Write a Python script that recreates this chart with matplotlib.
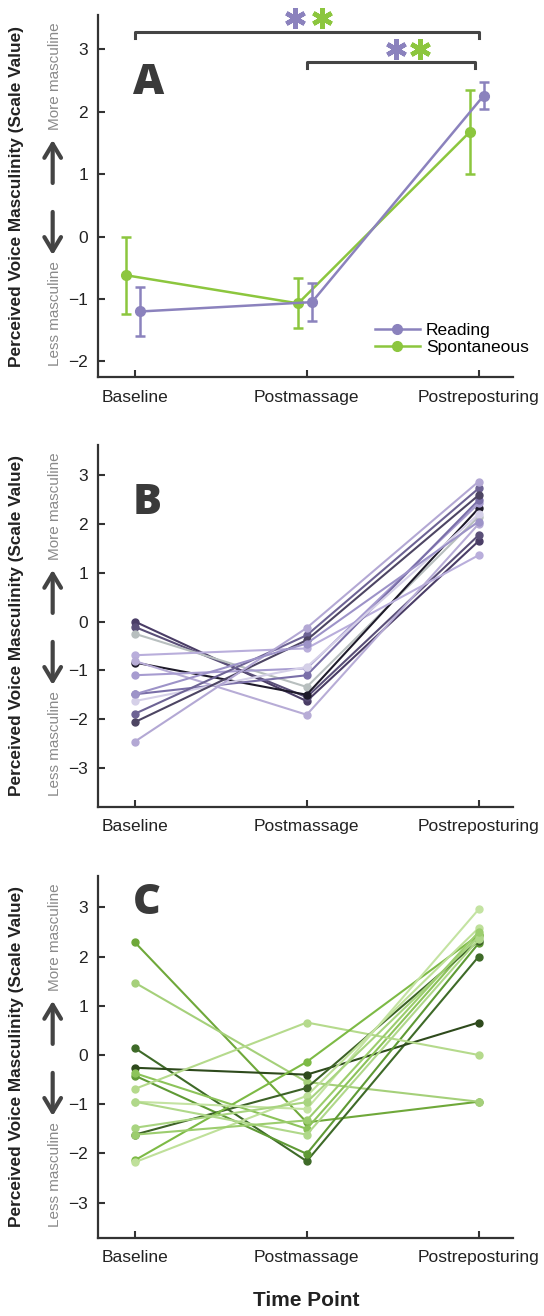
import numpy as np
import matplotlib
matplotlib.use("Agg")
import matplotlib.pyplot as plt
from matplotlib.lines import Line2D
from matplotlib.markers import MarkerStyle

plt.rcParams['font.family'] = ['Liberation Sans', 'DejaVu Sans']

# data
time_points = ["Baseline", "Postmassage", "Postreposturing"]
x_pos = np.array([1, 2, 3])

reading_mean = [-1.20, -1.05, 2.26]
reading_err = [0.40, 0.30, 0.22]
spont_mean = [-0.62, -1.07, 1.68]
spont_err = [0.62, 0.40, 0.67]

# panel B, individual reading ratings (baseline, postmassage, postreposturing)
reading_subjects = [
    [0.00, -1.63, 1.65],
    [-0.11, -1.55, 1.77],
    [-0.25, -1.34, 2.15],
    [-0.84, -1.50, 2.32],
    [-0.69, -0.55, 1.36],
    [-0.81, -1.91, 2.00],
    [-1.10, -0.96, 2.42],
    [-1.49, -1.10, 2.49],
    [-1.63, -0.93, 2.20],
    [-1.89, -0.28, 2.73],
    [-2.06, -0.38, 2.59],
    [-2.46, -0.13, 2.87],
    [-1.49, -0.45, 2.05],
]
reading_colors = ['#4a3d66', '#5a4f78', '#b8bfbf', '#1e1a2a', '#b9aedb', '#b7acd6',
                  '#a79cd0', '#7a6fa8', '#d5d0e8', '#6d6394', '#4d4563', '#b3a8d4', '#9d93c8']

# panel C, individual spontaneous ratings
spont_subjects = [
    [2.29, -1.37, -0.95],
    [1.47, -0.55, -0.95],
    [0.14, -2.16, 2.00],
    [-0.26, -0.40, 0.66],
    [-0.42, -2.01, 2.27],
    [-0.37, -1.50, 2.44],
    [-0.69, 0.66, 0.00],
    [-1.62, -0.67, 2.32],
    [-2.14, -0.14, 2.44],
    [-2.18, -0.83, 2.58],
    [-0.95, -1.10, 2.96],
    [-1.48, -0.96, 2.40],
    [-0.95, -1.62, 2.35],
    [-1.62, -1.33, 2.50],
]
spont_colors = ['#6fa83a', '#a5d07a', '#3e6a28', '#2e4a1c', '#5f9a35', '#8cc35a', '#b5da8c',
                '#3d6227', '#7dba45', '#bfe09a', '#c4e3a2', '#a8d480', '#b0d88a', '#9ccd6e']

purple = '#8b82bd'
green = '#8cc63e'
axis_col = '#333333'

fig = plt.figure(figsize=(5.44, 13.16), dpi=100)
ax_a = fig.add_axes([0.180, 0.7135, 0.763, 0.2751])
ax_b = fig.add_axes([0.180, 0.3868, 0.763, 0.2751])
ax_c = fig.add_axes([0.180, 0.0593, 0.763, 0.2751])


def style_axes(ax, ylim, yticks, letter, letter_y):
    ax.set_xlim(0.785, 3.2)
    ax.set_ylim(*ylim)
    ax.set_yticks(yticks)
    ax.set_yticklabels([str(t).replace('-', '\u2212') for t in yticks])
    ax.set_xticks(x_pos)
    ax.set_xticklabels(time_points)
    for s in ['top', 'right']:
        ax.spines[s].set_visible(False)
    for s in ['left', 'bottom']:
        ax.spines[s].set_color(axis_col)
        ax.spines[s].set_linewidth(1.6)
    ax.tick_params(direction='in', length=5, width=1.5, color=axis_col,
                   labelsize=12.5, labelcolor='#222222')
    ax.tick_params(axis='x', pad=9)
    ax.tick_params(axis='y', pad=7)
    ax.text(0.084, letter_y, letter, transform=ax.transAxes, fontsize=31,
            fontweight='heavy', family='Open Sans', color='#3a3a3a', va='center', ha='left')
    ax.text(-0.196, 0.5, "Perceived Voice Masculinity (Scale Value)", transform=ax.transAxes,
            rotation=90, ha='center', va='center', fontsize=12.4, fontweight='bold', color='#222222')
    ax.text(-0.104, 0.83, "More masculine", transform=ax.transAxes, rotation=90,
            ha='center', va='center', fontsize=11, color='#8a8a8a')
    ax.text(-0.104, 0.175, "Less masculine", transform=ax.transAxes, rotation=90,
            ha='center', va='center', fontsize=11, color='#8a8a8a')
    arrow = dict(arrowstyle='->,head_length=1.0,head_width=0.6', lw=3, color='#444444',
                 shrinkA=0, shrinkB=0)
    ax.annotate('', xy=(-0.109, 0.655), xytext=(-0.109, 0.536), xycoords='axes fraction',
                textcoords='axes fraction', arrowprops=arrow, annotation_clip=False)
    ax.annotate('', xy=(-0.109, 0.337), xytext=(-0.109, 0.456), xycoords='axes fraction',
                textcoords='axes fraction', arrowprops=arrow, annotation_clip=False)


# Panel A
ax_a.errorbar(x_pos - 0.05, spont_mean, yerr=spont_err, fmt='-o', color=green, lw=1.8, ms=7,
              capsize=3.5, elinewidth=1.8, capthick=1.8, zorder=3)
ax_a.errorbar(x_pos + 0.03, reading_mean, yerr=reading_err, fmt='-o', color=purple, lw=1.8, ms=7,
              capsize=3.5, elinewidth=1.8, capthick=1.8, zorder=4)
style_axes(ax_a, (-2.25, 3.55), [-2, -1, 0, 1, 2, 3], 'A', 0.813)

# significance brackets
ax_a.plot([1.0, 1.0, 3.0, 3.0], [3.18, 3.28, 3.28, 3.18], color='#444444', lw=2.2, clip_on=False)
ax_a.plot([2.0, 2.0, 2.98, 2.98], [2.70, 2.80, 2.80, 2.70], color='#444444', lw=2.2, clip_on=False)
star = MarkerStyle((6, 2, 0), capstyle='butt')
ax_a.plot([1.93, 2.52], [3.50, 3.00], ls='none', marker=star, ms=15, mew=3.3,
          color=purple, clip_on=False)
ax_a.plot([2.09, 2.66], [3.50, 3.00], ls='none', marker=star, ms=15, mew=3.3,
          color=green, clip_on=False)

handles = [Line2D([0], [0], color=purple, lw=1.8, marker='o', ms=7),
           Line2D([0], [0], color=green, lw=1.8, marker='o', ms=7)]
ax_a.legend(handles, ["Reading", "Spontaneous"], loc='upper left', bbox_to_anchor=(0.667, 0.15),
            frameon=False, fontsize=12.5, handlelength=2.6, handletextpad=0.35,
            labelspacing=0.12, borderpad=0, borderaxespad=0)

# Panel B
for vals, col in zip(reading_subjects, reading_colors):
    ax_b.plot(x_pos, vals, '-o', color=col, lw=1.5, ms=5)
style_axes(ax_b, (-3.8, 3.62), [-3, -2, -1, 0, 1, 2, 3], 'B', 0.84)

# Panel C
for vals, col in zip(spont_subjects, spont_colors):
    ax_c.plot(x_pos, vals, '-o', color=col, lw=1.5, ms=5)
style_axes(ax_c, (-3.72, 3.64), [-3, -2, -1, 0, 1, 2, 3], 'C', 0.926)

fig.text(0.5625, 0.012, "Time Point", ha='center', va='center', fontsize=15,
         fontweight='bold', color='#222222')

fig.savefig("out.png", dpi=100)
